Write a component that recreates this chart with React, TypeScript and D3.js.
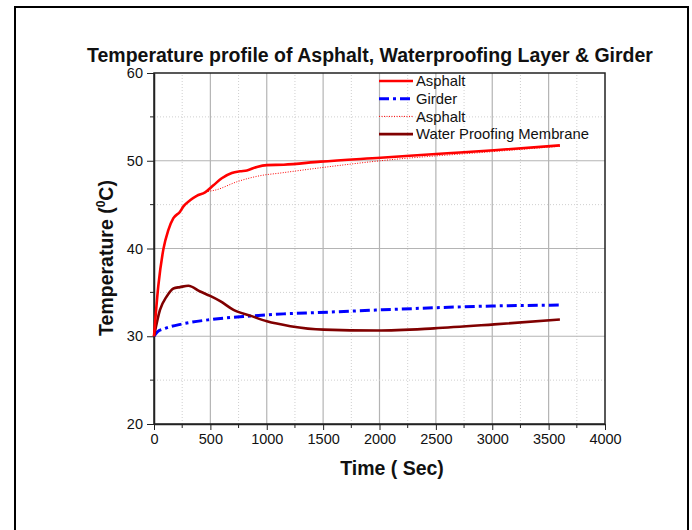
import React, { useRef, useEffect } from "react";
import * as d3 from "d3";

// time (sec) / temperature (deg C)
const asphaltTime = [0, 38, 83, 127, 172, 231, 261, 320, 379, 453, 527, 601, 690, 764, 824, 913, 1001, 1150, 1476, 2009, 2602, 3016, 3600];
const asphaltTemp = [30, 35.7, 39.9, 42.1, 43.45, 44.2, 44.8, 45.5, 46.0, 46.4, 47.2, 48.0, 48.6, 48.8, 48.9, 49.3, 49.5, 49.55, 49.9, 50.35, 50.85, 51.2, 51.75];

const asphalt2Time = [0, 38, 83, 127, 172, 231, 261, 320, 379, 453, 557, 735, 942, 1120, 1476, 2009, 3016, 3600];
const asphalt2Temp = [30, 35.7, 39.9, 42.1, 43.45, 44.2, 44.8, 45.5, 46.0, 46.4, 46.7, 47.6, 48.3, 48.6, 49.2, 50.0, 51.05, 51.65];

const girderTime = [0, 30, 100, 250, 500, 850, 1150, 1450, 2000, 2500, 3000, 3600];
const girderTemp = [30, 30.5, 30.9, 31.4, 31.9, 32.3, 32.55, 32.7, 33.0, 33.25, 33.45, 33.55];

const membraneTime = [0, 53, 113, 172, 231, 305, 409, 498, 587, 705, 853, 1001, 1209, 1505, 1979, 2483, 3016, 3600];
const membraneTemp = [30, 33.0, 34.55, 35.45, 35.6, 35.75, 35.1, 34.6, 34.0, 33.0, 32.35, 31.7, 31.15, 30.75, 30.65, 30.9, 31.35, 31.9];

const xTicks = [0, 500, 1000, 1500, 2000, 2500, 3000, 3500, 4000];
const yTicks = [20, 30, 40, 50, 60];

const FONT = "Arial, 'Liberation Sans', sans-serif";

const App = () => {
  const svgRef = useRef<SVGSVGElement>(null);

  useEffect(() => {
    const svg = d3.select(svgRef.current);
    svg.selectAll("*").remove();

    const margin = { top: 73, left: 154, right: 605, bottom: 424 };
    const x = d3.scaleLinear().domain([0, 4000]).range([margin.left, margin.right]);
    const y = d3.scaleLinear().domain([20, 60]).range([margin.bottom, margin.top]);

    // outer frame
    svg.append("rect")
      .attr("x", 15).attr("y", 7).attr("width", 673).attr("height", 540)
      .attr("fill", "white").attr("stroke", "black").attr("stroke-width", 2);

    // grid
    const grid = svg.append("g");
    d3.range(250, 4000, 250).forEach((t) => {
      const major = t % 500 === 0;
      grid.append("line")
        .attr("x1", x(t)).attr("x2", x(t)).attr("y1", y(20)).attr("y2", y(60))
        .attr("stroke", major ? "#b4b4b4" : "#cfcfcf")
        .attr("stroke-width", major ? 1.2 : 1)
        .attr("stroke-dasharray", major ? null : "1,2");
    });
    d3.range(25, 60, 5).forEach((v) => {
      const major = v % 10 === 0;
      grid.append("line")
        .attr("x1", x(0)).attr("x2", x(4000)).attr("y1", y(v)).attr("y2", y(v))
        .attr("stroke", major ? "#b4b4b4" : "#cfcfcf")
        .attr("stroke-width", major ? 1.2 : 1)
        .attr("stroke-dasharray", major ? null : "1,2");
    });

    // frame of plot
    svg.append("rect")
      .attr("x", x(0)).attr("y", y(60)).attr("width", x(4000) - x(0)).attr("height", y(20) - y(60))
      .attr("fill", "none").attr("stroke", "#222").attr("stroke-width", 1.5);

    // axes
    const xAxis = svg.append("g").attr("transform", `translate(0,${y(20)})`)
      .call(d3.axisBottom(x).tickValues(xTicks).tickFormat(d3.format("d")).tickSize(6).tickSizeOuter(0).tickPadding(4));
    xAxis.append("g").selectAll("line").data(d3.range(250, 4000, 500)).join("line")
      .attr("x1", (d) => x(d)).attr("x2", (d) => x(d)).attr("y1", 0).attr("y2", 4)
      .attr("stroke", "#222");
    const yAxis = svg.append("g").attr("transform", `translate(${x(0)},0)`)
      .call(d3.axisLeft(y).tickValues(yTicks).tickSize(7).tickSizeOuter(0).tickPadding(4));
    yAxis.append("g").selectAll("line").data([25, 35, 45, 55]).join("line")
      .attr("x1", 0).attr("x2", -4).attr("y1", (d) => y(d)).attr("y2", (d) => y(d))
      .attr("stroke", "#222");
    [xAxis, yAxis].forEach((g) => {
      g.select(".domain").attr("stroke", "#222").attr("stroke-width", 1.5);
      g.selectAll(".tick line").attr("stroke", "#222");
      g.selectAll("text").attr("font-family", FONT)
        .attr("font-size", 14.5).attr("fill", "#111");
    });

    // series
    const series = [
      { t: asphalt2Time, v: asphalt2Temp, color: "#ff0000", width: 1, dash: "1,1.5" },
      { t: girderTime, v: girderTemp, color: "#0000ff", width: 3, dash: "10,4,3,4" },
      { t: membraneTime, v: membraneTemp, color: "#800000", width: 2.6, dash: null },
      { t: asphaltTime, v: asphaltTemp, color: "#ff0000", width: 2.6, dash: null },
    ];
    const line = d3.line<[number, number]>()
      .x((d) => x(d[0])).y((d) => y(d[1]))
      .curve(d3.curveMonotoneX);
    series.forEach((s) => {
      svg.append("path")
        .datum(s.t.map((t, i) => [t, s.v[i]] as [number, number]))
        .attr("d", line)
        .attr("fill", "none")
        .attr("stroke", s.color)
        .attr("stroke-width", s.width)
        .attr("stroke-dasharray", s.dash);
    });

    // legend
    const legend = [
      { label: "Asphalt", color: "#ff0000", width: 2.6, dash: null },
      { label: "Girder", color: "#0000ff", width: 3, dash: "10,4,3,4" },
      { label: "Asphalt", color: "#ff0000", width: 1, dash: "1,1.5" },
      { label: "Water Proofing Membrane", color: "#800000", width: 2.6, dash: null },
    ];
    const lg = svg.append("g");
    legend.forEach((d, i) => {
      const ly = 81 + i * 17.7;
      lg.append("line")
        .attr("x1", 379).attr("x2", 413).attr("y1", ly).attr("y2", ly)
        .attr("stroke", d.color).attr("stroke-width", d.width)
        .attr("stroke-dasharray", d.dash);
      lg.append("text")
        .attr("x", 416).attr("y", ly).attr("dy", "0.36em")
        .attr("font-family", FONT)
        .attr("font-size", 14.8).attr("fill", "#111")
        .text(d.label);
    });

    // title and axis labels
    svg.append("text")
      .attr("x", 370).attr("y", 62).attr("text-anchor", "middle")
      .attr("font-family", FONT)
      .attr("font-size", 19.5).attr("font-weight", "bold").attr("fill", "#111")
      .text("Temperature profile of Asphalt, Waterproofing Layer & Girder");

    svg.append("text")
      .attr("x", 392).attr("y", 475).attr("text-anchor", "middle")
      .attr("font-family", FONT)
      .attr("font-size", 19.5).attr("font-weight", "bold").attr("fill", "#111")
      .text("Time ( Sec)");

    const yl = svg.append("text")
      .attr("transform", `translate(113,258) rotate(-90)`)
      .attr("text-anchor", "middle")
      .attr("font-family", FONT)
      .attr("font-size", 19.5).attr("font-weight", "bold").attr("fill", "#111");
    yl.append("tspan").text("Temperature (");
    yl.append("tspan").attr("font-size", 12).attr("dy", -8).text("0");
    yl.append("tspan").attr("dy", 8).text("C)");
  }, []);

  return (
    <svg
      ref={svgRef}
      width={692}
      height={530}
      style={{ position: "absolute", left: 0, top: 0, background: "white" }}
    />
  );
};

export default App;
